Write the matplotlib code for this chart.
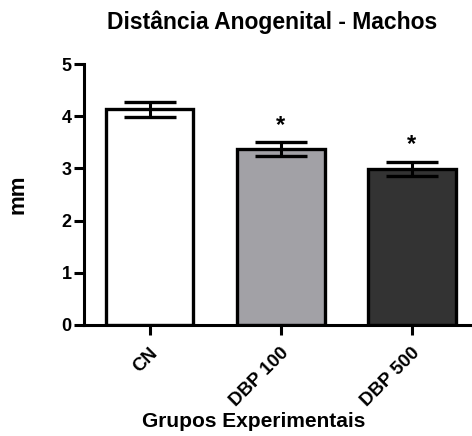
import matplotlib
matplotlib.use("Agg")
import matplotlib.pyplot as plt
import numpy as np

plt.rcParams["font.family"] = ["Liberation Sans", "DejaVu Sans"]
plt.rcParams["font.weight"] = "bold"

# ── data ─────────────────────────────────────────
grupos = ["CN", "DBP 100", "DBP 500"]
medias = [4.13, 3.37, 2.99]
erros = [0.14, 0.13, 0.14]
signif = ["", "*", "*"]
cores = ["#FFFFFF", "#A2A1A6", "#333333"]

fig = plt.figure(figsize=(4.72, 4.36), dpi=100)
ax = fig.add_axes([0.178, 0.2546, 0.833, 0.5984])

x = np.arange(len(grupos))
ax.bar(x, medias, width=0.67, color=cores, edgecolor="black", linewidth=2.4, zorder=2)
ax.errorbar(x, medias, yerr=erros, fmt="none", ecolor="black", elinewidth=2.2,
            capsize=19, capthick=2.4, zorder=3)
for xi, m, e, s in zip(x, medias, erros, signif):
    if s:
        ax.text(xi, m + e + 0.1, s, ha="center", va="bottom", fontsize=17, fontweight="bold")

ax.set_xlim(-0.5, 2.5)
ax.set_ylim(0, 5)
ax.set_yticks(range(6))
ax.set_xticks(x)
ax.set_xticklabels(grupos, rotation=45, ha="right", rotation_mode="anchor", fontsize=13.5,
                   fontweight="bold")
ax.tick_params(axis="y", labelsize=13, width=2.2, length=7, pad=2)
ax.tick_params(axis="x", width=2.2, length=7, pad=7)
for lbl in ax.get_yticklabels():
    lbl.set_fontweight("bold")

for sp in ["top", "right"]:
    ax.spines[sp].set_visible(False)
for sp in ["left", "bottom"]:
    ax.spines[sp].set_linewidth(2.2)

ax.set_ylabel("mm", fontsize=16, fontweight="bold")
ax.yaxis.set_label_coords(-0.14, 0.5)
ax.set_xlabel("Grupos Experimentais", fontsize=15, fontweight="bold")
ax.xaxis.set_label_coords(0.432, -0.335)
fig.text(0.577, 0.95, "Distância Anogenital - Machos", ha="center", va="center",
         fontsize=16.5, fontweight="bold")

fig.savefig("out.png", dpi=100)
